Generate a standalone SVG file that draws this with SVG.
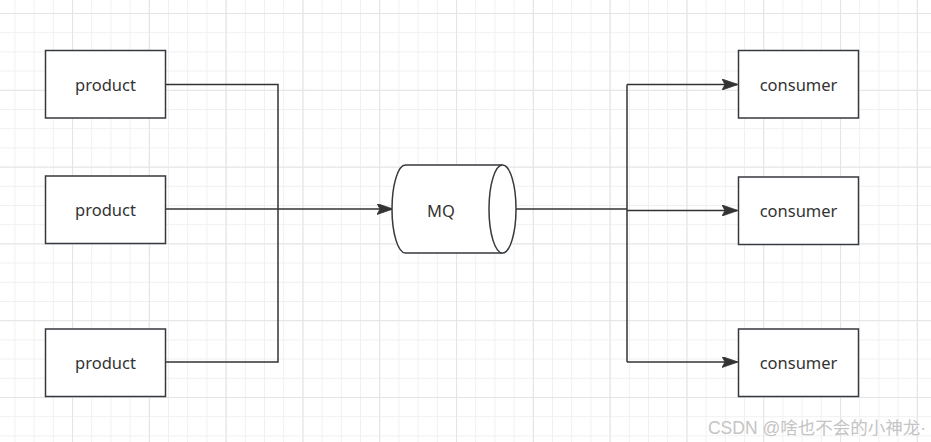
<svg xmlns="http://www.w3.org/2000/svg" width="931" height="442" viewBox="0 0 931 442">
<defs>
<pattern id="minor" width="19.2" height="19.2" patternUnits="userSpaceOnUse" x="14.4" y="13">
<path d="M0 0.5H19.2M0.5 0V19.2" fill="none" stroke="#f0f0f0" stroke-width="1"/>
</pattern>
<pattern id="major" width="76.8" height="76.8" patternUnits="userSpaceOnUse" x="72" y="13">
<path d="M0 0.5H76.8M0.5 0V76.8" fill="none" stroke="#e4e4e4" stroke-width="1.2"/>
</pattern>
<marker id="arr" markerWidth="16" markerHeight="11" refX="15" refY="5.5" orient="auto" markerUnits="userSpaceOnUse">
<path d="M0 0L16 5.5L0 11L3 5.5Z" fill="#333" stroke="#333" stroke-width="0.8" stroke-linejoin="round"/>
</marker>
</defs>
<style>
.box{fill:#fff;stroke:#36393d;stroke-width:1.5}
.lbl{font-family:"Noto Sans","Open Sans","Liberation Sans",sans-serif;font-size:16.5px;fill:#333;text-anchor:middle;dominant-baseline:central}
.edge{fill:none;stroke:#333;stroke-width:1.5}
</style>
<rect width="931" height="442" fill="#fff"/>
<rect width="931" height="442" fill="url(#minor)"/>
<rect width="931" height="442" fill="url(#major)"/>
<g id="connectors">
<path class="edge" d="M166 84.5H278V362H166"/>
<path class="edge" d="M166 209H392" marker-end="url(#arr)"/>
<path class="edge" d="M516 209H627"/>
<path class="edge" d="M627 84.5V362"/>
<path class="edge" d="M627 84.5H737" marker-end="url(#arr)"/>
<path class="edge" d="M627 210.5H737" marker-end="url(#arr)"/>
<path class="edge" d="M627 362H737" marker-end="url(#arr)"/>
</g>
<g id="product1"><rect class="box" x="45.5" y="50.5" width="120" height="67.5"/><text class="lbl" x="105.5" y="84.5">product</text></g>
<g id="product2"><rect class="box" x="45.5" y="176" width="120" height="67.5"/><text class="lbl" x="105.5" y="209.5">product</text></g>
<g id="product3"><rect class="box" x="45.5" y="329" width="120" height="67.5"/><text class="lbl" x="105.5" y="362.5">product</text></g>
<g id="mq">
<path class="box" d="M405.5 165H502.5A13.5 44 0 0 1 502.5 253H405.5A13.5 44 0 0 1 405.5 165Z"/>
<path class="box" fill="none" d="M502.5 165A13.5 44 0 0 0 502.5 253"/>
<text class="lbl" x="441" y="210">MQ</text>
</g>
<g id="consumer1"><rect class="box" x="738.5" y="50.5" width="120" height="67.5"/><text class="lbl" x="798.5" y="84.5">consumer</text></g>
<g id="consumer2"><rect class="box" x="738.5" y="177" width="120" height="67.5"/><text class="lbl" x="798.5" y="210.5">consumer</text></g>
<g id="consumer3"><rect class="box" x="738.5" y="329" width="120" height="67.5"/><text class="lbl" x="798.5" y="362.5">consumer</text></g>
<text x="926" y="434" text-anchor="end" font-family="'Liberation Sans','Noto Sans CJK SC',sans-serif" font-size="17.5" fill="#c4c4c4">CSDN @啥也不会的小神龙·</text>
</svg>
